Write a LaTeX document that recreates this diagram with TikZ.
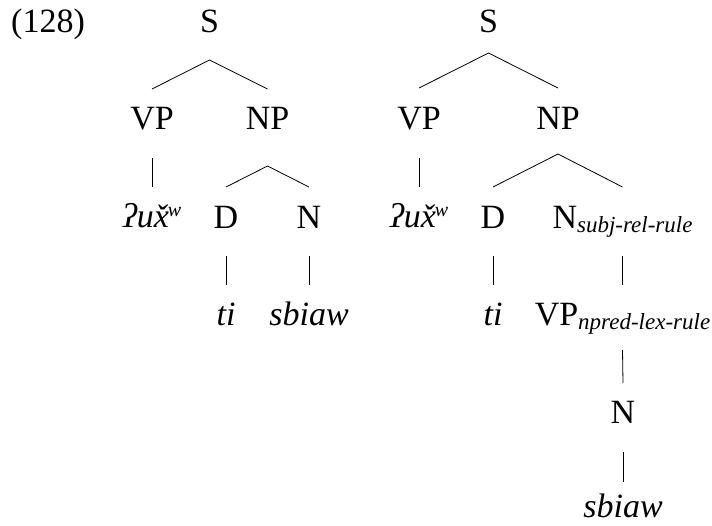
\documentclass[tikz,border=0pt]{standalone}
\usepackage{fontspec}
\setmainfont{Liberation Serif}
\newcommand{\subl}[1]{\raisebox{-4pt}{\fontsize{23}{25}\selectfont\itshape #1}}
\newcommand{\supw}{\raisebox{11pt}{\fontsize{20}{22}\selectfont\itshape w}}
\newcommand{\uxw}{\textit{ʔux̌\kern-1pt\supw}}
\tikzset{
  lbl/.style={anchor=base, inner sep=0pt, font=\fontsize{34}{40}\selectfont},
  br/.style={line width=0.8pt}
}
\begin{document}
\begin{tikzpicture}[x=1pt,y=-1pt]
\useasboundingbox (0,0) rectangle (712,525);
\node[lbl, anchor=base west] (ex) at (11,32) {(128)};
% left tree
\node[lbl] (S1) at (209.5,32) {S};
\node[lbl] (VP1) at (152,129) {VP};
\node[lbl] (NP1) at (267.5,129) {NP};
\node[lbl] (U1) at (152,227) {\uxw};
\node[lbl] (D1) at (226,228) {D};
\node[lbl] (N1) at (309,228) {N};
\node[lbl] (T1) at (226,325) {\textit{ti}};
\node[lbl] (SB1) at (309,325) {\textit{sbiaw}};
\draw[br] ([yshift=40pt]VP1.base) -- ([yshift=-28pt]S1.base) -- ([yshift=40pt]NP1.base);
\draw[br] ([yshift=-29pt]VP1.base) -- ([yshift=40pt]U1.base);
\draw[br] ([yshift=41pt]D1.base) -- ([yshift=-37pt]NP1.base) -- ([yshift=41pt]N1.base);
\draw[br] ([yshift=-28pt]D1.base) -- ([yshift=40pt]T1.base);
\draw[br] ([yshift=-28pt]N1.base) -- ([yshift=40pt]SB1.base);
% right tree
\node[lbl] (S2) at (488.5,32) {S};
\node[lbl] (VP2) at (419,129) {VP};
\node[lbl] (NP2) at (558,129) {NP};
\node[lbl] (U2) at (419,227) {\uxw};
\node[lbl] (D2) at (493,228) {D};
\node[lbl] (N2) at (622.5,228) {N\subl{subj-rel-rule}};
\node[lbl] (T2) at (493,325) {\textit{ti}};
\node[lbl] (VP3) at (622.5,325) {VP\subl{npred-lex-rule}};
\node[lbl] (N3) at (623,423) {N};
\node[lbl] (SB2) at (623,517) {\textit{sbiaw}};
\draw[br] ([yshift=41pt]VP2.base) -- ([yshift=-21pt]S2.base) -- ([yshift=41pt]NP2.base);
\draw[br] ([yshift=-29pt]VP2.base) -- ([yshift=40pt]U2.base);
\draw[br] ([yshift=41pt]D2.base) -- ([yshift=-25pt]NP2.base) -- ([yshift=41pt]N2.base);
\draw[br] ([yshift=-28pt]D2.base) -- ([yshift=40pt]T2.base);
\draw[br] ([yshift=-28pt]N2.base) -- ([yshift=40pt]VP3.base);
\draw[br] ([yshift=-25pt]VP3.base) -- ([yshift=40pt]N3.base);
\draw[br] ([yshift=-29pt]N3.base) -- ([yshift=35pt]SB2.base);
\end{tikzpicture}
\end{document}
